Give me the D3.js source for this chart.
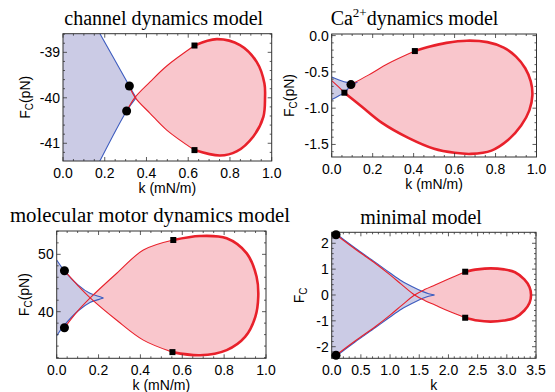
<!DOCTYPE html>
<html><head><meta charset="utf-8">
<script src="https://cdn.jsdelivr.net/npm/d3@7"></script>
<style>
body{margin:0;background:#fff}
svg{display:block}
text{font-family:"Liberation Sans",Arial,sans-serif}
.ttl{font-family:"Liberation Serif","Times New Roman",serif}
</style>
</head><body>
<script>
// ---- channel dynamics model ----
var chTicksX = [0, 0.2, 0.4, 0.6, 0.8, 1.0];
var chLabelsX = ["0.0","0.2","0.4","0.6","0.8","1.0"];
var chTicksY = [-41, -40, -39];
var chLabelsY = ["-41","-40","-39"];
var chSnUpper = [[0.15,-38.37],[0.318,-39.74],[0.35,-40.0]];
var chSnLower = [[0.15,-41.63],[0.305,-40.29],[0.35,-40.0]];
var chHopfA = [[0.318,-39.74],[0.345,-39.99],[0.417,-40.34],[0.497,-40.71],[0.63,-41.15]];
var chHopfB = [[0.63,-41.15],[0.752,-41.27],[0.832,-41.18],[0.912,-40.85],[0.96,-40.42],[0.968,-40.0],
               [0.965,-39.68],[0.928,-39.21],[0.848,-38.84],[0.737,-38.71],[0.63,-38.85]];
var chHopfC = [[0.63,-38.85],[0.497,-39.30],[0.417,-39.65],[0.345,-39.99],[0.305,-40.29]];
var chBT = [[0.318,-39.74],[0.305,-40.29]];
var chGH = [[0.63,-38.85],[0.63,-41.15]];

// ---- Ca2+ dynamics model ----
var caTicksX = [0, 0.2, 0.4, 0.6, 0.8, 1.0];
var caLabelsX = ["0.0","0.2","0.4","0.6","0.8","1.0"];
var caTicksY = [-1.5, -1.0, -0.5, 0.0];
var caLabelsY = ["-1.5","-1.0","-0.5","0.0"];
var caSnUpper = [[0,-0.57],[0.03,-0.605],[0.06,-0.635],[0.09,-0.648],[0.125,-0.643]];
var caSnLower = [[0,-0.88],[0.031,-0.835],[0.062,-0.785],[0.094,-0.69],[0.125,-0.643]];
var caHopfA = [[0,-0.62],[0.031,-0.70],[0.062,-0.787]];
var caHopfB = [[0.062,-0.787],[0.146,-0.978],[0.244,-1.2],[0.374,-1.41],[0.5,-1.56],[0.6,-1.615],[0.68,-1.63],
               [0.78,-1.585],[0.861,-1.44],[0.925,-1.24],[0.965,-1.03],[0.98,-0.82],[0.972,-0.63],
               [0.945,-0.45],[0.9,-0.29],[0.84,-0.165],[0.76,-0.09],[0.66,-0.07],[0.56,-0.1],[0.48,-0.15],[0.406,-0.213]];
var caHopfC = [[0.406,-0.213],[0.276,-0.385],[0.179,-0.545],[0.094,-0.675]];
var caBT = [[0.094,-0.675]];
var caGH = [[0.062,-0.787],[0.406,-0.213]];

// ---- molecular motor dynamics model ----
var moTicksX = [0, 0.2, 0.4, 0.6, 0.8, 1.0];
var moLabelsX = ["0.0","0.2","0.4","0.6","0.8","1.0"];
var moTicksY = [40, 50];
var moLabelsY = ["40","50"];
var moSnUpper = [[0,49.0],[0.032,47.35],[0.103,44.64],[0.159,43.2],[0.199,42.7],[0.223,42.4]];
var moSnLower = [[0,35.8],[0.032,37.45],[0.103,40.16],[0.159,41.6],[0.199,42.1],[0.223,42.4]];
var moHopfA = [[0.037,47.14],[0.1,44.6],[0.16,42.4],[0.287,38.5],[0.414,35.04],[0.553,32.95]];
var moHopfB = [[0.553,32.95],[0.685,32.4],[0.812,33.3],[0.9,35.6],[0.949,39.1],[0.963,42.6],
               [0.955,46.1],[0.908,50.17],[0.812,52.8],[0.685,53.2],[0.557,52.5]];
var moHopfC = [[0.557,52.5],[0.414,50.75],[0.287,46.7],[0.16,42.4],[0.1,40.1],[0.037,37.19]];
var moBT = [[0.037,47.14],[0.037,37.19]];
var moGH = [[0.557,52.5],[0.553,32.95]];

// ---- minimal model ----
var miTicksX = [0, 0.5, 1.0, 1.5, 2.0, 2.5, 3.0, 3.5];
var miLabelsX = ["0.0","0.5","1.0","1.5","2.0","2.5","3.0","3.5"];
var miTicksY = [-2, -1, 0, 1, 2];
var miLabelsY = ["-2","-1","0","1","2"];
var miSnUpper = [[0,2.5],[0.074,2.37],[0.4,1.82],[0.75,1.26],[1.0,0.85],[1.2,0.54],[1.4,0.3],[1.55,0.14],[1.66,0.05],[1.76,0]];
var miSnLower = [[0,-2.5],[0.074,-2.37],[0.4,-1.82],[0.75,-1.26],[1.0,-0.85],[1.2,-0.54],[1.4,-0.3],[1.55,-0.14],[1.66,-0.05],[1.76,0]];
var miHopfA = [[0.074,2.33],[0.4,1.78],[0.75,1.22],[1.0,0.78],[1.2,0.40],[1.42,0.0],[1.6,-0.22],[1.77,-0.39],[2.0,-0.62],[2.287,-0.88]];
var miHopfB = [[2.287,-0.88],[2.5,-0.99],[2.72,-1.03],[2.95,-0.99],[3.14,-0.88],[3.3,-0.6],[3.39,-0.3],[3.415,0],
               [3.39,0.3],[3.3,0.6],[3.14,0.88],[2.95,0.99],[2.72,1.03],[2.5,0.99],[2.287,0.90]];
var miHopfC = [[2.287,0.90],[2.0,0.62],[1.77,0.39],[1.6,0.22],[1.42,0],[1.2,-0.40],[1.0,-0.78],[0.75,-1.22],[0.4,-1.78],[0.074,-2.33]];
var miBT = [[0.074,2.33],[0.074,-2.33]];
var miGH = [[2.287,0.90],[2.287,-0.88]];

var PINK = "#f9c6cc", LAV = "#cbcbe5", BLUE = "#3d5cbf", RED = "#e8212b";

var svg = d3.select("body").append("svg").attr("width",555).attr("height",392);

var panels = [
  {title:"channel dynamics model", tx:163.7, ty:25, tfs:20, box:{l:63,r:271.7,t:33.7,b:161},
   xDom:[0,1], yDom:[-41.39,-38.59], xT:chTicksX, xL:chLabelsX, yT:chTicksY, yL:chLabelsY,
   xMinor:0.05, yMinor:0.2, xLabel:"k (mN/m)", yUnit:"(pN)", ylx:30,
   sn:[chSnUpper,chSnLower], hopf:[chHopfA,chHopfB,chHopfC], bt:chBT, gh:chGH},
  {title:"Ca", sup:"2+", rest:"dynamics model", tx:414.5, ty:25, tfs:20, box:{l:331.7,r:536.5,t:34,b:157},
   xDom:[0,1], yDom:[-1.673,0.022], xT:caTicksX, xL:caLabelsX, yT:caTicksY, yL:caLabelsY,
   xMinor:0.05, yMinor:0.1, xLabel:"k (mN/m)", yUnit:"(pN)", ylx:294,
   sn:[caSnUpper,caSnLower], hopf:[caHopfA,caHopfB,caHopfC], bt:caBT, gh:caGH},
  {title:"molecular motor dynamics model", tx:150, ty:222, tfs:20.8, box:{l:56.7,r:266,t:231,b:358.3},
   xDom:[0,1], yDom:[31.87,54.07], xT:moTicksX, xL:moLabelsX, yT:moTicksY, yL:moLabelsY,
   xMinor:0.05, yMinor:2, xLabel:"k (mN/m)", yUnit:"(pN)", ylx:29,
   sn:[moSnUpper,moSnLower], hopf:[moHopfA,moHopfB,moHopfC], bt:moBT, gh:moGH},
  {title:"minimal model", tx:421, ty:224, tfs:20, box:{l:331.7,r:536,t:232.3,b:358.3},
   xDom:[0,3.5], yDom:[-2.449,2.425], xT:miTicksX, xL:miLabelsX, yT:miTicksY, yL:miLabelsY,
   xMinor:0.1, yMinor:0.2, xLabel:"k", yUnit:"", ylx:304,
   sn:[miSnUpper,miSnLower], hopf:[miHopfA,miHopfB,miHopfC], bt:miBT, gh:miGH}
];

function minorTicks(dom, step){
  var out = [], i0 = Math.ceil(dom[0]/step - 1e-9), i1 = Math.floor(dom[1]/step + 1e-9);
  for (var i=i0;i<=i1;i++) out.push(+(i*step).toFixed(6));
  return out;
}

panels.forEach(function(p, idx){
  var b = p.box;
  var x = d3.scaleLinear().domain(p.xDom).range([b.l,b.r]);
  var y = d3.scaleLinear().domain(p.yDom).range([b.b,b.t]);
  var g = svg.append("g");

  g.append("clipPath").attr("id","clip"+idx).append("rect")
    .attr("x",b.l).attr("y",b.t).attr("width",b.r-b.l).attr("height",b.b-b.t);

  var line = d3.line().x(function(d){return x(d[0]);}).y(function(d){return y(d[1]);})
    .curve(d3.curveCatmullRom.alpha(0.5));
  var cont = function(pts){ return line(pts).replace(/^M/,"L"); };

  var plot = g.append("g").attr("clip-path","url(#clip"+idx+")");

  // hopf region (pink)
  plot.append("path")
    .attr("d", line(p.hopf[0]) + cont(p.hopf[1]) + cont(p.hopf[2]) + "Z")
    .attr("fill",PINK);

  // bistable region (lavender)
  var up = p.sn[0], lo = p.sn[1];
  var x0 = x(p.xDom[0]);
  plot.append("path")
    .attr("d", line(up) + cont(lo.slice().reverse()) + "L"+x0+","+y(lo[0][1]) + "L"+x0+","+y(up[0][1]) + "Z")
    .attr("fill",LAV);

  // saddle-node lines
  p.sn.forEach(function(s){
    plot.append("path").attr("d",line(s)).attr("fill","none").attr("stroke",BLUE).attr("stroke-width",1.1);
  });
  // hopf lines: thin supercritical, thick subcritical
  [p.hopf[0],p.hopf[2]].forEach(function(s){
    plot.append("path").attr("d",line(s)).attr("fill","none").attr("stroke",RED).attr("stroke-width",1.1);
  });
  plot.append("path").attr("d",line(p.hopf[1])).attr("fill","none").attr("stroke",RED)
    .attr("stroke-width",2.6).attr("stroke-linecap","round");

  // frame
  g.append("rect").attr("x",b.l).attr("y",b.t).attr("width",b.r-b.l).attr("height",b.b-b.t)
    .attr("fill","none").attr("stroke","#333").attr("stroke-width",1);

  // ticks (inward, all four sides)
  var tk = g.append("g").attr("stroke","#333").attr("stroke-width",0.8);
  var mx = minorTicks(p.xDom,p.xMinor), my = minorTicks(p.yDom,p.yMinor);
  mx.forEach(function(v){
    var len = p.xT.some(function(t){return Math.abs(t-v)<1e-6;}) ? 4 : 2;
    tk.append("line").attr("x1",x(v)).attr("x2",x(v)).attr("y1",b.b).attr("y2",b.b-len);
    tk.append("line").attr("x1",x(v)).attr("x2",x(v)).attr("y1",b.t).attr("y2",b.t+len);
  });
  my.forEach(function(v){
    var len = p.yT.some(function(t){return Math.abs(t-v)<1e-6;}) ? 4 : 2;
    tk.append("line").attr("y1",y(v)).attr("y2",y(v)).attr("x1",b.l).attr("x2",b.l+len);
    tk.append("line").attr("y1",y(v)).attr("y2",y(v)).attr("x1",b.r).attr("x2",b.r-len);
  });

  // tick labels
  p.xT.forEach(function(v,i){
    g.append("text").attr("x",x(v)).attr("y",b.b+16.5).attr("text-anchor","middle")
      .attr("font-size",14).text(p.xL[i]);
  });
  p.yT.forEach(function(v,i){
    g.append("text").attr("x",b.l-3).attr("y",y(v)).attr("dy","0.36em").attr("text-anchor","end")
      .attr("font-size",14).text(p.yL[i]);
  });

  // axis labels
  g.append("text").attr("x",(b.l+b.r)/2).attr("y",b.b+32).attr("text-anchor","middle")
    .attr("font-size",14).text(p.xLabel);
  var yl = g.append("text").attr("transform","translate("+p.ylx+","+((b.t+b.b)/2)+") rotate(-90)")
    .attr("text-anchor","middle").attr("font-size",14);
  yl.append("tspan").text("F");
  yl.append("tspan").attr("font-size",10).attr("dy",3).text("C");
  if (p.yUnit) yl.append("tspan").attr("dy",-3).text(p.yUnit);

  // title
  var t = g.append("text").attr("class","ttl").attr("x",p.tx).attr("y",p.ty)
    .attr("text-anchor","middle").attr("font-size",p.tfs);
  t.append("tspan").text(p.title);
  if (p.sup){
    t.append("tspan").attr("font-size",13).attr("dy",-8).text(p.sup);
    t.append("tspan").attr("dy",8).text(p.rest);
  }

  // markers: Bogdanov-Takens (dots), generalized Hopf (squares)
  g.selectAll(null).data(p.bt).enter().append("circle")
    .attr("cx",function(d){return x(d[0]);}).attr("cy",function(d){return y(d[1]);})
    .attr("r",4.5).attr("fill","#000");
  g.selectAll(null).data(p.gh).enter().append("rect")
    .attr("x",function(d){return x(d[0])-3;}).attr("y",function(d){return y(d[1])-3;})
    .attr("width",6).attr("height",6).attr("fill","#000");
});
</script>
</body></html>
